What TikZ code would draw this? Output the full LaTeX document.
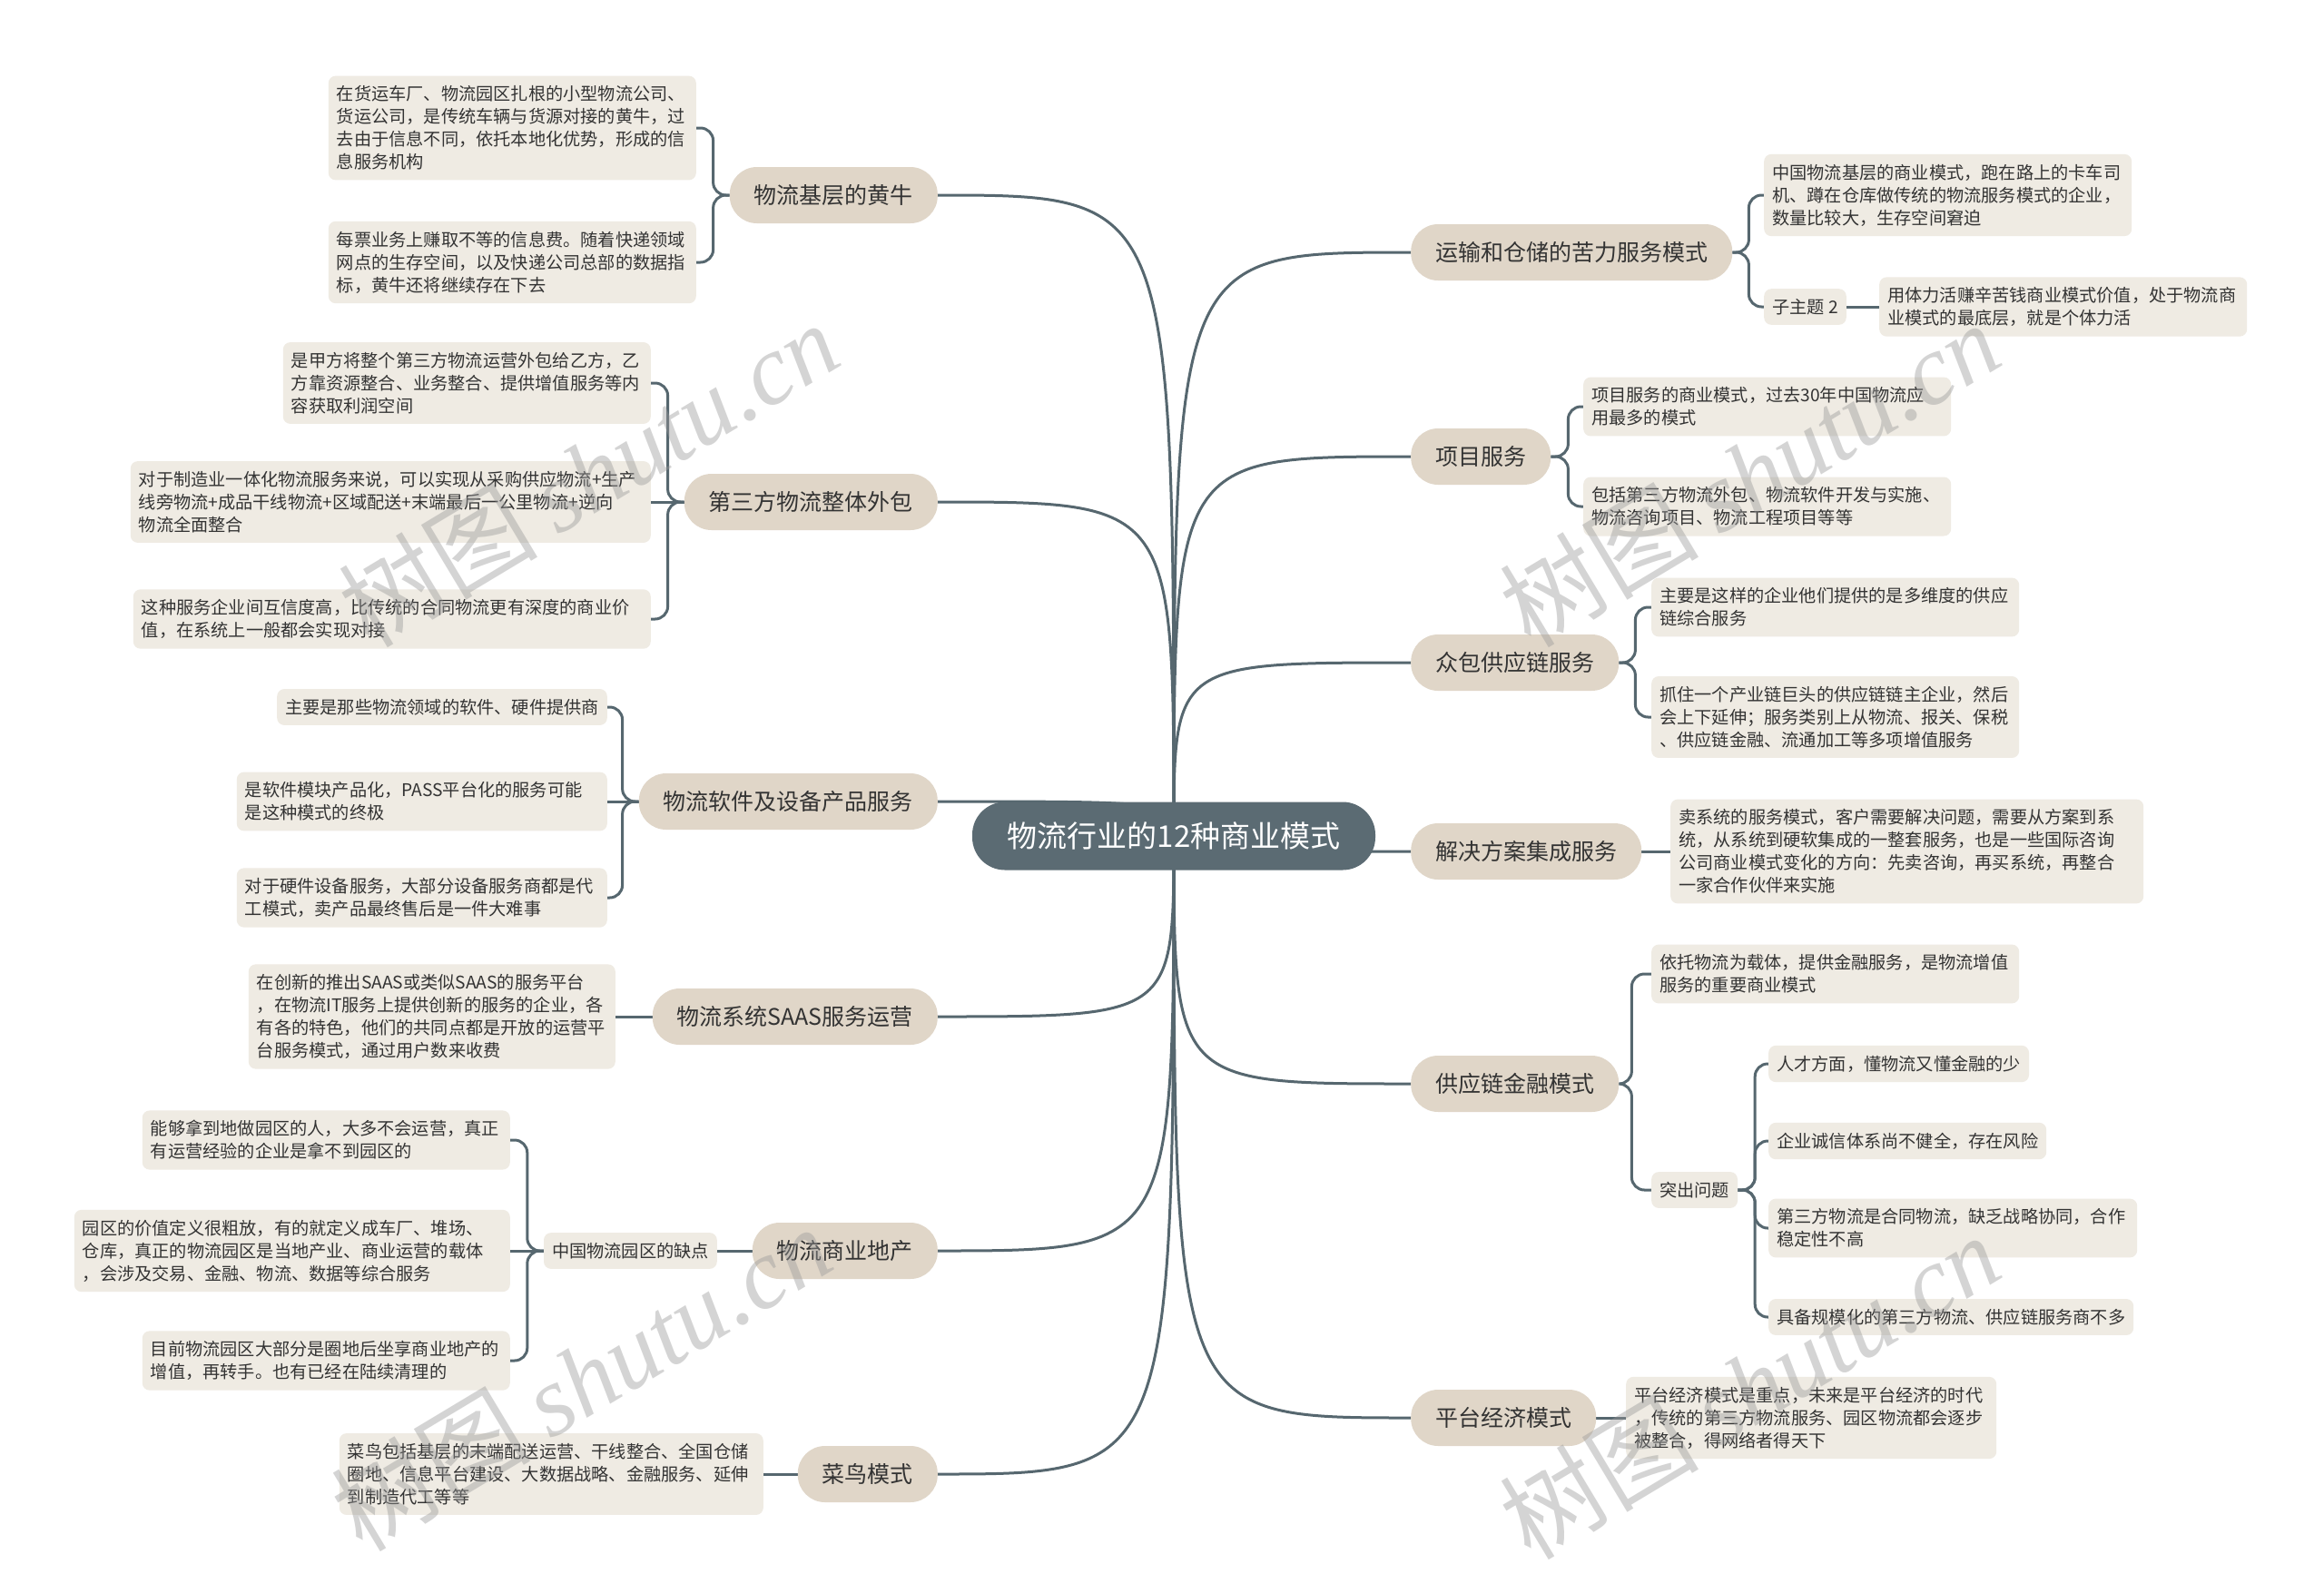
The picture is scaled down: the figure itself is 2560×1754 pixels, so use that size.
\documentclass[tikz,border=0pt]{standalone}
\usepackage{fontspec}
\setmainfont{Noto Sans CJK SC}
\newfontfamily\cjkwm{Noto Sans CJK SC}
\newfontfamily\latwm{Liberation Serif}
\usetikzlibrary{backgrounds,calc}
\definecolor{lineC}{HTML}{56676F}
\definecolor{mainC}{HTML}{5B6B73}
\definecolor{lvOne}{HTML}{E0D6C8}
\definecolor{boxC}{HTML}{EFEBE3}
\definecolor{txtC}{HTML}{333333}
\begin{document}
\begin{tikzpicture}[x=1pt,y=-1pt,
  mainbox/.style={fill=mainC, text=white, rounded corners=36pt, minimum height=75pt, minimum width=444pt, inner ysep=0pt, font=\fontsize{33pt}{40pt}\selectfont},
  lone/.style={fill=lvOne, text=txtC, rounded corners=30pt, minimum height=62pt, inner xsep=27pt, inner ysep=0pt, font=\fontsize{25pt}{30pt}\selectfont},
  leaf/.style={fill=boxC, text=txtC, rounded corners=8pt, inner xsep=9pt, inner ysep=11pt, align=left, font=\fontsize{19.2pt}{25pt}\selectfont},
  conn/.style={draw=lineC, line width=3pt},
  br/.style={draw=lineC, line width=3pt, rounded corners=14pt},
  wm/.style={text=black!40, text opacity=0.42, font=\fontsize{110pt}{120pt}\selectfont, inner sep=0pt}]
\begin{scope}[on background layer]
\fill[white] (0,0) rectangle (2560,1754);
\end{scope}
\useasboundingbox (0,0) rectangle (2560,1754);

% main
\node[mainbox] (m) at (1293,921) {物流行业的12种商业模式};

% left level one
\node[lone, anchor=east] (La) at (1033,215) {物流基层的黄牛};
\node[lone, anchor=east] (Lb) at (1033,553) {第三方物流整体外包};
\node[lone, anchor=east] (Lc) at (1033,883) {物流软件及设备产品服务};
\node[lone, anchor=east] (Ld) at (1033,1120) {物流系统SAAS服务运营};
\node[lone, anchor=east] (Le) at (1033,1378) {物流商业地产};
\node[lone, anchor=east] (Lf) at (1033,1624) {菜鸟模式};

% right level one
\node[lone, anchor=west] (Ra) at (1554,278) {运输和仓储的苦力服务模式};
\node[lone, anchor=west] (Rb) at (1554,503) {项目服务};
\node[lone, anchor=west] (Rc) at (1554,730) {众包供应链服务};
\node[lone, anchor=west] (Rd) at (1554,938) {解决方案集成服务};
\node[lone, anchor=west] (Re) at (1554,1194) {供应链金融模式};
\node[lone, anchor=west] (Rf) at (1554,1562) {平台经济模式};

% left leaves
\node[leaf, anchor=east, text width=387pt] (a1) at (767,141) {在货运车厂、物流园区扎根的小型物流公司、\\货运公司，是传统车辆与货源对接的黄牛，过\\去由于信息不同，依托本地化优势，形成的信\\息服务机构};
\node[leaf, anchor=east, text width=387pt] (a2) at (767,289) {每票业务上赚取不等的信息费。随着快递领域\\网点的生存空间，以及快递公司总部的数据指\\标，黄牛还将继续存在下去};

\node[leaf, anchor=east, text width=387pt] (b1) at (717,422) {是甲方将整个第三方物流运营外包给乙方，乙\\方靠资源整合、业务整合、提供增值服务等内\\容获取利润空间};
\node[leaf, anchor=east, text width=555pt] (b2) at (717,553) {对于制造业一体化物流服务来说，可以实现从采购供应物流+生产\\线旁物流+成品干线物流+区域配送+末端最后一公里物流+逆向\\物流全面整合};
\node[leaf, anchor=east, text width=552pt] (b3) at (717,682) {这种服务企业间互信度高，比传统的合同物流更有深度的商业价\\值，在系统上一般都会实现对接};

\node[leaf, anchor=east] (c1) at (669,779) {主要是那些物流领域的软件、硬件提供商};
\node[leaf, anchor=east, text width=390pt] (c2) at (669,883) {是软件模块产品化，PASS平台化的服务可能\\是这种模式的终极};
\node[leaf, anchor=east, text width=390pt] (c3) at (669,989) {对于硬件设备服务，大部分设备服务商都是代\\工模式，卖产品最终售后是一件大难事};

\node[leaf, anchor=east, text width=386pt] (d1) at (678,1120) {在创新的推出SAAS或类似SAAS的服务平台\\，在物流IT服务上提供创新的服务的企业，各\\有各的特色，他们的共同点都是开放的运营平\\台服务模式，通过用户数来收费};

\node[leaf, anchor=east] (eL) at (790,1378) {中国物流园区的缺点};
\node[leaf, anchor=east, text width=387pt] (e1) at (562,1256) {能够拿到地做园区的人，大多不会运营，真正\\有运营经验的企业是拿不到园区的};
\node[leaf, anchor=east, text width=462pt] (e2) at (562,1378) {园区的价值定义很粗放，有的就定义成车厂、堆场、\\仓库，真正的物流园区是当地产业、商业运营的载体\\，会涉及交易、金融、物流、数据等综合服务};
\node[leaf, anchor=east, text width=387pt] (e3) at (562,1499) {目前物流园区大部分是圈地后坐享商业地产的\\增值，再转手。也有已经在陆续清理的};

\node[leaf, anchor=east, text width=449pt] (f1) at (841,1624) {菜鸟包括基层的末端配送运营、干线整合、全国仓储\\圈地、信息平台建设、大数据战略、金融服务、延伸\\到制造代工等等};

% right leaves
\node[leaf, anchor=west, text width=387pt] (ra1) at (1943,215) {中国物流基层的商业模式，跑在路上的卡车司\\机、蹲在仓库做传统的物流服务模式的企业，\\数量比较大，生存空间窘迫};
\node[leaf, anchor=west] (raL) at (1943,338) {子主题 2};
\node[leaf, anchor=west, text width=387pt] (ra2) at (2070,338) {用体力活赚辛苦钱商业模式价值，处于物流商\\业模式的最底层，就是个体力活};

\node[leaf, anchor=west, text width=387pt] (rb1) at (1744,448) {项目服务的商业模式，过去30年中国物流应\\用最多的模式};
\node[leaf, anchor=west, text width=387pt] (rb2) at (1744,558) {包括第三方物流外包、物流软件开发与实施、\\物流咨询项目、物流工程项目等等};

\node[leaf, anchor=west, text width=387pt] (rc1) at (1819,669) {主要是这样的企业他们提供的是多维度的供应\\链综合服务};
\node[leaf, anchor=west, text width=387pt] (rc2) at (1819,790) {抓住一个产业链巨头的供应链链主企业，然后\\会上下延伸；服务类别上从物流、报关、保税\\、供应链金融、流通加工等多项增值服务};

\node[leaf, anchor=west, text width=503pt] (rd1) at (1840,938) {卖系统的服务模式，客户需要解决问题，需要从方案到系\\统，从系统到硬软集成的一整套服务，也是一些国际咨询\\公司商业模式变化的方向：先卖咨询，再买系统，再整合\\一家合作伙伴来实施};

\node[leaf, anchor=west, text width=387pt] (re1) at (1819,1073) {依托物流为载体，提供金融服务，是物流增值\\服务的重要商业模式};
\node[leaf, anchor=west] (reL) at (1819,1311) {突出问题};
\node[leaf, anchor=west] (s1) at (1948,1172) {人才方面，懂物流又懂金融的少};
\node[leaf, anchor=west] (s2) at (1948,1257) {企业诚信体系尚不健全，存在风险};
\node[leaf, anchor=west, text width=388pt] (s3) at (1948,1353) {第三方物流是合同物流，缺乏战略协同，合作\\稳定性不高};
\node[leaf, anchor=west] (s4) at (1948,1451) {具备规模化的第三方物流、供应链服务商不多};

\node[leaf, anchor=west, text width=390pt] (rf1) at (1791,1562) {平台经济模式是重点，未来是平台经济的时代\\，传统的第三方物流服务、园区物流都会逐步\\被整合，得网络者得天下};

\begin{scope}[on background layer]
% main curves
\foreach \n in {La,Lb,Lc,Ld,Le,Lf}
  \draw[conn] (m.center) .. controls (m.center |- \n.east) .. (\n.east);
\foreach \n in {Ra,Rb,Rc,Rd,Re,Rf}
  \draw[conn] (m.center) .. controls (m.center |- \n.west) .. (\n.west);
% left brackets
\foreach \c in {a1,a2} \draw[br] (La.west) -- ++(-18,0) |- (\c.east);
\foreach \c in {b1,b3} \draw[br] (Lb.west) -- ++(-18,0) |- (\c.east);
\draw[conn] (Lb.west) -- (b2.east);
\foreach \c in {c1,c3} \draw[br] (Lc.west) -- ++(-18,0) |- (\c.east);
\draw[conn] (Lc.west) -- (c2.east);
\draw[conn] (Ld.west) -- (d1.east);
\draw[conn] (Le.west) -- (eL.east);
\foreach \c in {e1,e3} \draw[br] (eL.west) -- ++(-18,0) |- (\c.east);
\draw[conn] (eL.west) -- (e2.east);
\draw[conn] (Lf.west) -- (f1.east);
% right brackets
\foreach \c in {ra1,raL} \draw[br] (Ra.east) -- ++(18,0) |- (\c.west);
\draw[conn] (raL.east) -- (ra2.west);
\foreach \c in {rb1,rb2} \draw[br] (Rb.east) -- ++(19,0) |- (\c.west);
\foreach \c in {rc1,rc2} \draw[br] (Rc.east) -- ++(18,0) |- (\c.west);
\draw[conn] (Rd.east) -- (rd1.west);
\foreach \c in {re1,reL} \draw[br] (Re.east) -- ++(14,0) |- (\c.west);
\foreach \c in {s1,s2,s3,s4} \draw[br] (reL.east) -- ++(19,0) |- (\c.west);
\draw[conn] (Rf.east) -- (rf1.west);
\end{scope}

% watermarks
\node[wm, rotate=31] (w1) at (648,522) {{\cjkwm 树图}\hspace{22pt}{\latwm\itshape shutu.cn}};
\node[wm, rotate=31] (w2) at (1927,522) {{\cjkwm 树图}\hspace{22pt}{\latwm\itshape shutu.cn}};
\node[wm, rotate=31] (w3) at (640,1518) {{\cjkwm 树图}\hspace{22pt}{\latwm\itshape shutu.cn}};
\node[wm, rotate=31] (w4) at (1927,1527) {{\cjkwm 树图}\hspace{22pt}{\latwm\itshape shutu.cn}};
\end{tikzpicture}
\end{document}
